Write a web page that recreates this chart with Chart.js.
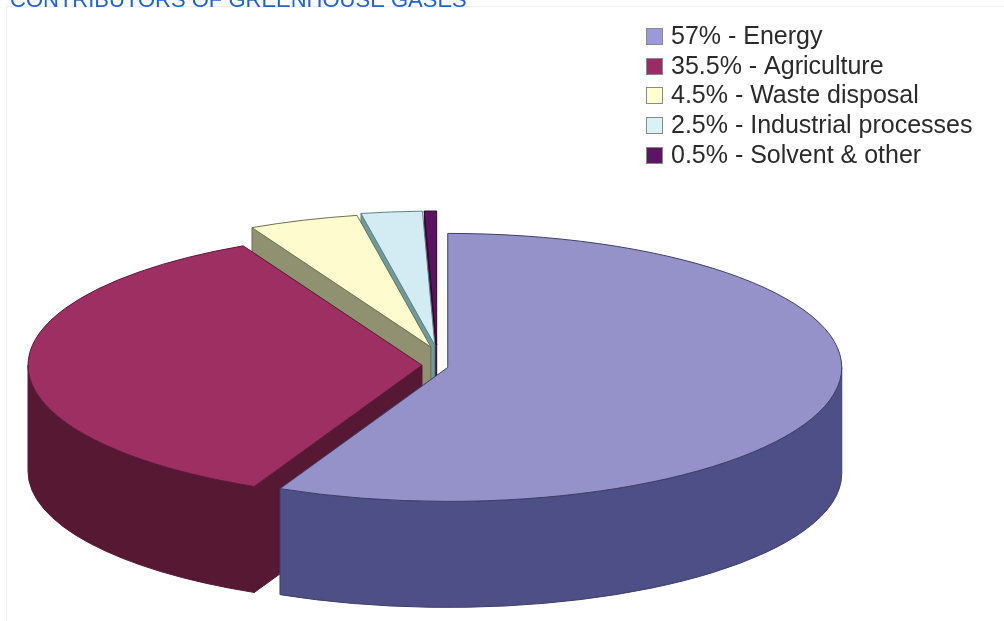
<!DOCTYPE html>
<html>
<head>
<meta charset="utf-8">
<title>Contributors of greenhouse gases</title>
<script src="https://cdn.jsdelivr.net/npm/chart.js@4.4.1/dist/chart.umd.min.js"></script>
<style>
  html, body { margin: 0; padding: 0; background: #fff; }
  #wrap { position: relative; width: 1004px; height: 621px; overflow: hidden; }
</style>
</head>
<body>
<div id="wrap"><canvas id="pie" width="1004" height="621"></canvas></div>
<script>
// Share of greenhouse gas emissions by sector (percent)
const sectors = ['Energy', 'Agriculture', 'Waste disposal', 'Industrial processes', 'Solvent & other'];
const shares = [57, 35.5, 4.5, 2.5, 0.5];
const legendLabels = shares.map((s, i) => s + '% - ' + sectors[i]);
const chartTitle = 'CONTRIBUTORS OF GREENHOUSE GASES';

// colours: top of the slice, side walls, thin outline, legend box
const topColors = ['#9492c8', '#9d2f63', '#fefbcf', '#d3ebf2', '#5a145e'];
const wallColors = ['#4e4f86', '#561833', '#8f9170', '#6f9a9c', '#3c0c40'];
const edgeColors = ['#3e3e6a', '#5a1838', '#6f7050', '#5e8486', '#2e0830'];
const legendColors = ['#9b9ad8', '#9b2c63', '#ffffd2', '#d8f2f6', '#5c1563'];

// how far each slice is pulled out of the pie (px) and how thick the pie is
const explode = [11, 15, 19, 20, 20];
const depth = 106;

// Plugin that turns the flat pie into a tilted, extruded one.
// The top of every slice is still the library's own arc element, only squashed.
const pie3d = {
    id: 'pie3d',
    beforeDatasetsDraw(chart) {
        const ctx = chart.ctx;
        const ca = chart.chartArea;
        const cx = (ca.left + ca.right) / 2, cy = (ca.top + ca.bottom) / 2;
        const rx = (ca.right - ca.left) / 2, ry = (ca.bottom - ca.top) / 2;

        const slices = chart.getDatasetMeta(0).data.map((el, i) => {
            const p = el.getProps(['x', 'y', 'startAngle', 'endAngle', 'outerRadius'], true);
            const mid = (p.startAngle + p.endAngle) / 2;
            return {el, i, p, mid, X: cx + Math.cos(mid) * explode[i], Y: cy + Math.sin(mid) * explode[i]};
        });
        // back slices first
        slices.sort((a, b) => Math.sin(a.mid) - Math.sin(b.mid));

        slices.forEach(s => {
            const {p, X, Y, i} = s;
            const a0 = p.startAngle, a1 = p.endAngle;

            ctx.save();
            ctx.fillStyle = wallColors[i];
            ctx.strokeStyle = edgeColors[i];
            ctx.lineWidth = 1;
            ctx.lineJoin = 'round';
            // radial cut faces turned towards the viewer
            [[a0, a0 - Math.PI / 2], [a1, a1 + Math.PI / 2]].forEach(([a, n]) => {
                if (Math.sin(n) <= 0.001) return;
                const ex = X + rx * Math.cos(a), ey = Y + ry * Math.sin(a);
                ctx.beginPath();
                ctx.moveTo(X, Y);
                ctx.lineTo(ex, ey);
                ctx.lineTo(ex, ey + depth);
                ctx.lineTo(X, Y + depth);
                ctx.closePath();
                ctx.fill();
                ctx.stroke();
            });
            // front half of the curved rim
            for (let k = -2; k <= 2; k++) {
                const lo = Math.max(a0, k * 2 * Math.PI);
                const hi = Math.min(a1, k * 2 * Math.PI + Math.PI);
                if (hi <= lo) continue;
                ctx.beginPath();
                ctx.ellipse(X, Y, rx, ry, 0, lo, hi);
                ctx.lineTo(X + rx * Math.cos(hi), Y + ry * Math.sin(hi) + depth);
                ctx.ellipse(X, Y + depth, rx, ry, 0, hi, lo, true);
                ctx.closePath();
                ctx.fill();
                ctx.stroke();
            }
            ctx.restore();

            // top face
            ctx.save();
            ctx.translate(X, Y);
            ctx.scale(rx / p.outerRadius, ry / p.outerRadius);
            ctx.translate(-p.x, -p.y);
            s.el.draw(ctx);
            ctx.restore();

            ctx.save();
            ctx.strokeStyle = edgeColors[i];
            ctx.lineWidth = 1;
            ctx.beginPath();
            ctx.moveTo(X, Y);
            ctx.ellipse(X, Y, rx, ry, 0, a0, a1);
            ctx.closePath();
            ctx.stroke();
            ctx.restore();
        });
        return false;
    }
};

// title (cut off at the top edge, as in the source) and the legend box
const decorations = {
    id: 'decorations',
    afterDraw(chart) {
        const ctx = chart.ctx;
        ctx.save();
        ctx.strokeStyle = '#f0f0f0';
        ctx.lineWidth = 1;
        ctx.strokeRect(6.5, 6.5, 1010, 640);

        ctx.fillStyle = '#2463c4';
        ctx.font = '22px "Liberation Sans", Arial, sans-serif';
        ctx.textBaseline = 'alphabetic';
        ctx.fillText(chartTitle, 10, 7);

        ctx.font = '25px "Liberation Sans", Arial, sans-serif';
        legendLabels.forEach((t, i) => {
            const base = Math.round(44 + i * 29.7);
            ctx.fillStyle = legendColors[i];
            ctx.fillRect(646, base - 16, 17, 17);
            ctx.strokeStyle = '#8a8a8a';
            ctx.strokeRect(646.5, base - 15.5, 16, 16);
            ctx.fillStyle = '#2b2b2b';
            ctx.fillText(t, 671, base);
        });
        ctx.restore();
    }
};

new Chart(document.getElementById('pie'), {
    type: 'pie',
    data: {
        labels: sectors,
        datasets: [{
            data: shares,
            backgroundColor: topColors,
            borderWidth: 0,
            hoverOffset: 0
        }]
    },
    options: {
        responsive: false,
        animation: false,
        devicePixelRatio: 1,
        events: [],
        layout: {
            padding: {left: 43, right: 173, top: 231, bottom: 122}
        },
        plugins: {
            legend: {display: false},
            title: {display: false},
            tooltip: {enabled: false}
        }
    },
    plugins: [pie3d, decorations]
});
</script>
</body>
</html>
